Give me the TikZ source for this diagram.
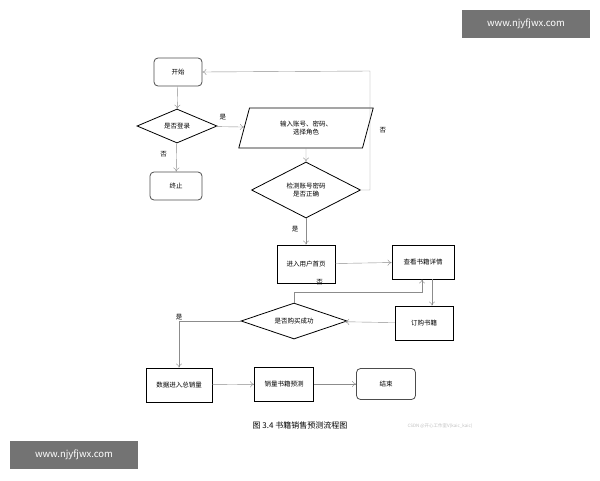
\documentclass[tikz,border=0pt]{standalone}
\usepackage{fontspec}
\setmainfont{Noto Sans CJK SC}
\usetikzlibrary{shapes.geometric,arrows.meta}
\tikzset{
  box/.style={draw, thick, minimum width=#1, minimum height=34pt, font=\fontsize{6.5}{8}\selectfont},
  box/.default=60pt,
  endbox/.style={box=#1, rounded corners=4pt, draw=black!70},
  endbox/.default=52pt,
  cond/.style={diamond, draw, thick, aspect=2.4, inner sep=1pt, font=\fontsize{6.5}{8}\selectfont, align=center},
  flow/.style={draw=black!45, -{To[length=4pt,width=6pt]}},
  lbl/.style={font=\fontsize{6.5}{8}\selectfont},
}
\begin{document}
\begin{tikzpicture}[x=1pt, y=-1pt]

\useasboundingbox (0,0) rectangle (600,480);

%% nodes
\node[endbox=48pt, minimum height=28pt] (start) at (178,72) {开始};
\node[cond, minimum width=80pt, minimum height=34pt] (login) at (177,126) {是否登录};
\node[endbox=52pt, minimum height=28pt] (stop) at (176,186) {终止};
\node[trapezium, trapezium left angle=75, trapezium right angle=105, draw, thick,
  minimum width=86pt, minimum height=40pt, align=center,
  font=\fontsize{6.5}{8}\selectfont] (input) at (306,128) {输入账号、密码、\\选择角色};
\node[cond, minimum width=109pt, minimum height=56pt] (check) at (306,190) {检测账号密码\\是否正确};
\node[box=58pt, minimum height=38pt] (home) at (306,264) {进入用户首页};
\node[box=62pt] (detail) at (423,262) {查看书籍详情};
\node[box=58pt] (order) at (424,323) {订购书籍};
\node[cond, minimum width=106pt, minimum height=36pt] (buy) at (294,321) {是否购买成功};
\node[box=66pt] (total) at (179,385) {数据进入总销量};
\node[box=59pt] (predict) at (284,384) {销量书籍预测};
\node[endbox=59pt, minimum height=31pt] (finish) at (386,384) {结束};

%% connectors
\draw[flow] (start) -- (login);
\draw[flow] (login) -- (stop) node[lbl, pos=0.4, left=6pt] {否};
\draw[flow] (login) -- (input) node[lbl, pos=0.25, above=3pt] {是};
\draw[flow] (input) -- (check);
\draw[flow] (check.east) -| (370,71) node[lbl, pos=0.75, right=6pt] {否} -- (start.east);
\draw[flow] (check) -- (home) node[lbl, pos=0.4, left=4pt] {是};
\draw[flow] (home) -- (detail);
\draw[flow] (detail.south -| 432,0) -- (order.north -| 432,0);
\draw[flow] (order) -- (buy);
\draw[flow] (buy.north) |- (422,292) node[lbl, pos=0.6, above=3pt] {否} -- (detail.south -| 422,0);
\draw[flow] (buy.west) -| (total.north) node[lbl, pos=0.55, above=2pt] {是};
\draw[flow] (total) -- (predict);
\draw[flow] (predict) -- (finish);

%% caption and marks
\node[font=\fontsize{8}{10}\selectfont] (caption) at (300,425) {图 3.4 书籍销售预测流程图};
\node[font=\fontsize{4.5}{6}\selectfont, text=black!25] (csdn) at (440,426) {CSDN @开心工作室V(kaic\_kaic)};
\node[fill=black!55, text=white, minimum width=128pt, minimum height=28pt,
  font=\fontsize{9.5}{11}\selectfont] (mark1) at (526,24) {www.njyfjwx.com};
\node[fill=black!55, text=white, minimum width=128pt, minimum height=28pt,
  font=\fontsize{9.5}{11}\selectfont] (mark2) at (74,455) {www.njyfjwx.com};

\end{tikzpicture}
\end{document}
